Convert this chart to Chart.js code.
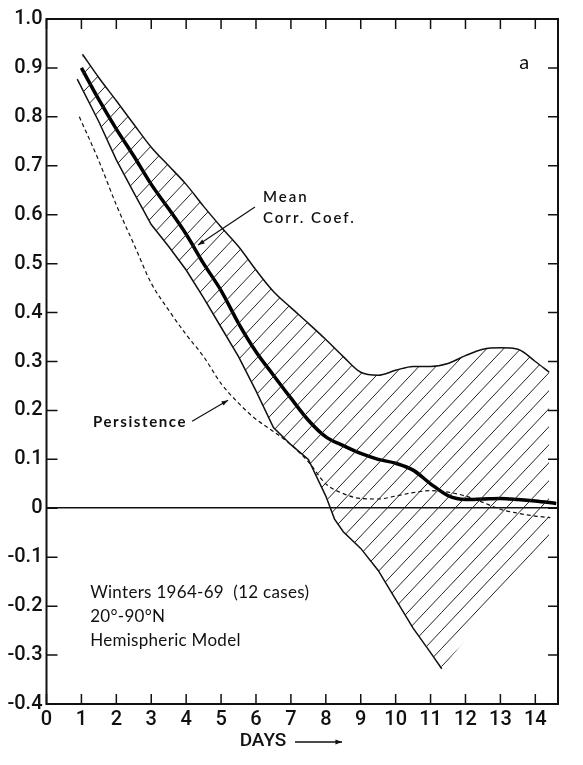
<!DOCTYPE html>
<html>
<head>
<meta charset="utf-8">
<script src="https://cdn.jsdelivr.net/npm/chart.js@4"></script>
<style>
  html, body { margin: 0; padding: 0; background: #fff; }
  #wrap { width: 583px; height: 765px; position: relative; }
</style>
</head>
<body>
<div id="wrap"><canvas id="chart"></canvas></div>
<script>
// values (days, correlation coefficient)
const dayTicks = [0, 1, 2, 3, 4, 5, 6, 7, 8, 9, 10, 11, 12, 13, 14];
const corrTicks = [-0.4, -0.3, -0.2, -0.1, 0, 0.1, 0.2, 0.3, 0.4, 0.5, 0.6, 0.7, 0.8, 0.9, 1.0];
const corrTickLabels = ['-0.4', '-0.3', '-0.2', '-0.1', '0', '0.1', '0.2', '0.3', '0.4', '0.5', '0.6', '0.7', '0.8', '0.9', '1.0'];

const meanDays = [1, 1.5, 2, 2.5, 3, 3.5, 4, 4.5, 5, 5.5, 6, 6.5, 7, 7.5, 8, 8.5, 9, 9.5, 10, 10.5, 11, 11.5, 12, 12.5, 13, 13.5, 14, 14.6];
const meanCorr = [0.90, 0.835, 0.775, 0.72, 0.662, 0.612, 0.56, 0.50, 0.445, 0.378, 0.32, 0.272, 0.225, 0.18, 0.146, 0.128, 0.112, 0.10, 0.092, 0.078, 0.05, 0.026, 0.018, 0.019, 0.02, 0.018, 0.015, 0.01];

const upperDays = [1.03, 1.5, 2, 2.5, 3, 3.5, 4, 4.5, 5, 5.5, 6, 6.5, 7, 7.5, 8, 8.5, 9, 9.5, 10, 10.5, 11, 11.5, 12, 12.5, 13, 13.5, 14, 14.4];
const upperBound = [0.928, 0.88, 0.833, 0.785, 0.738, 0.70, 0.662, 0.617, 0.575, 0.535, 0.487, 0.443, 0.41, 0.378, 0.345, 0.31, 0.278, 0.272, 0.282, 0.29, 0.29, 0.296, 0.312, 0.325, 0.328, 0.325, 0.30, 0.278];

const lowerDays = [0.88, 1.5, 2, 2.5, 3, 3.5, 4, 4.5, 5, 5.5, 6, 6.5, 7, 7.5, 8, 8.25, 8.5, 9, 9.5, 10, 10.5, 11, 11.32, 12, 13, 14, 14.4];
const lowerBound = [0.877, 0.79, 0.712, 0.645, 0.58, 0.535, 0.487, 0.43, 0.37, 0.31, 0.24, 0.165, 0.13, 0.10, 0.025, -0.022, -0.048, -0.082, -0.127, -0.186, -0.245, -0.295, -0.328, -0.268, -0.181, -0.095, -0.057];

const persistDays = [0.94, 1.5, 2, 2.5, 3, 3.5, 4, 4.5, 5, 5.5, 6, 6.5, 7, 7.5, 8, 8.5, 9, 9.5, 10, 10.5, 11, 11.5, 12, 12.5, 13, 13.5, 14, 14.43];
const persistence = [0.80, 0.71, 0.62, 0.54, 0.46, 0.405, 0.355, 0.31, 0.255, 0.215, 0.182, 0.157, 0.13, 0.095, 0.05, 0.03, 0.02, 0.019, 0.025, 0.032, 0.036, 0.033, 0.025, 0.012, -0.002, -0.01, -0.016, -0.019];

const toPoints = (xs, ys) => xs.map((d, i) => ({x: d, y: ys[i]}));

function makeHatch() {
    const w = 17, h = 18;
    const c = document.createElement('canvas');
    c.width = w; c.height = h;
    const g = c.getContext('2d');
    g.strokeStyle = '#222';
    g.lineWidth = 1;
    for (let k = -1; k <= 1; k++) {
        g.beginPath();
        g.moveTo(k * w, h);
        g.lineTo(k * w + w, 0);
        g.stroke();
    }
    return g.createPattern(c, 'repeat');
}

function arrow(ctx, x1, y1, x2, y2) {
    ctx.beginPath();
    ctx.moveTo(x1, y1);
    ctx.lineTo(x2, y2);
    ctx.stroke();
    const a = Math.atan2(y2 - y1, x2 - x1);
    const len = 7;
    ctx.beginPath();
    ctx.moveTo(x2, y2);
    ctx.lineTo(x2 - len * Math.cos(a - 0.35), y2 - len * Math.sin(a - 0.35));
    ctx.lineTo(x2 - len * Math.cos(a + 0.35), y2 - len * Math.sin(a + 0.35));
    ctx.closePath();
    ctx.fill();
}

const decorations = {
    id: 'decorations',
    afterDraw(chart) {
        const {ctx, chartArea: a, scales: {x, y}} = chart;
        ctx.save();
        ctx.strokeStyle = '#111';
        ctx.fillStyle = '#111';

        // frame
        ctx.lineWidth = 2;
        ctx.strokeRect(a.left, a.top, a.right - a.left, a.bottom - a.top);

        // inward ticks on all four sides
        ctx.lineWidth = 1.5;
        ctx.beginPath();
        x.ticks.forEach(t => {
            const px = x.getPixelForValue(t.value);
            ctx.moveTo(px, a.bottom); ctx.lineTo(px, a.bottom - 10);
            ctx.moveTo(px, a.top); ctx.lineTo(px, a.top + 10);
        });
        y.ticks.forEach(t => {
            const py = y.getPixelForValue(t.value);
            ctx.moveTo(a.left, py); ctx.lineTo(a.left + 11, py);
            ctx.moveTo(a.right, py); ctx.lineTo(a.right - 10, py);
        });
        ctx.stroke();

        const X = v => x.getPixelForValue(v);
        const Y = v => y.getPixelForValue(v);

        // labels with arrows
        ctx.lineWidth = 1.2;
        ctx.textBaseline = 'middle';
        ctx.textAlign = 'left';
        ctx.letterSpacing = '2px';
        ctx.font = '600 15px Lato, "Open Sans", sans-serif';
        ctx.fillText('Mean', X(6.2), Y(0.636));
        ctx.fillText('Corr. Coef.', X(6.2), Y(0.593));
        arrow(ctx, X(5.97), Y(0.616), X(4.34), Y(0.538));

        ctx.letterSpacing = '1.6px';
        ctx.font = 'bold 15px Lato, "Open Sans", sans-serif';
        ctx.fillText('Persistence', X(1.33), Y(0.176));
        arrow(ctx, X(4.17), Y(0.178), X(5.2), Y(0.221));

        ctx.letterSpacing = '0.3px';
        ctx.font = '17px Lato, "Open Sans", sans-serif';
        ctx.fillText('Winters 1964-69  (12 cases)', X(1.25), Y(-0.173));
        ctx.fillText('20°-90°N', X(1.25), Y(-0.222));
        ctx.fillText('Hemispheric Model', X(1.25), Y(-0.271));

        ctx.letterSpacing = '0px';
        ctx.font = '20px Lato, "Open Sans", sans-serif';
        ctx.textAlign = 'center';
        ctx.fillText('a', X(13.68), Y(0.912));

        // axis caption
        ctx.font = '500 19px Roboto, "Liberation Sans", sans-serif';
        ctx.fillText('DAYS', 263, 741);
        ctx.lineWidth = 1.5;
        arrow(ctx, 295, 742, 342, 742);
        ctx.restore();
    }
};

const tickFont = {family: 'Roboto, "Liberation Sans", sans-serif', size: 20, weight: '500'};

new Chart(document.getElementById('chart'), {
    type: 'line',
    data: {
        datasets: [
            {
                label: 'Upper',
                data: toPoints(upperDays, upperBound),
                borderColor: '#111',
                borderWidth: 1.5,
                pointRadius: 0,
                cubicInterpolationMode: 'monotone',
                fill: '+1',
                backgroundColor: makeHatch()
            },
            {
                label: 'Lower',
                data: toPoints(lowerDays, lowerBound),
                borderColor: '#111',
                borderWidth: 1.5,
                pointRadius: 0,
                tension: 0,
                fill: false,
                segment: {
                    borderColor: c => c.p0.parsed.x >= 11.3 ? 'rgba(0,0,0,0)' : '#111'
                }
            },
            {
                label: 'Persistence',
                data: toPoints(persistDays, persistence),
                borderColor: '#111',
                borderWidth: 1.2,
                borderDash: [4, 3],
                pointRadius: 0,
                cubicInterpolationMode: 'monotone',
                fill: false
            },
            {
                label: 'Mean Corr. Coef.',
                data: toPoints(meanDays, meanCorr),
                borderColor: '#000',
                borderWidth: 3.5,
                pointRadius: 0,
                cubicInterpolationMode: 'monotone',
                fill: false
            }
        ]
    },
    options: {
        responsive: true,
        maintainAspectRatio: false,
        animation: false,
        events: [],
        layout: {padding: {top: 19, right: 25, left: 0, bottom: 0}},
        plugins: {
            legend: {display: false},
            tooltip: {enabled: false}
        },
        scales: {
            x: {
                type: 'linear',
                min: 0,
                max: 14.65,
                afterFit: s => { s.height = 61; },
                afterBuildTicks: s => { s.ticks = dayTicks.map(v => ({value: v})); },
                grid: {display: false, drawTicks: false},
                border: {display: false},
                ticks: {color: '#111', font: tickFont, padding: 4, maxRotation: 0, autoSkip: false}
            },
            y: {
                min: -0.4,
                max: 1.0,
                afterFit: s => { s.width = 46.5; },
                afterBuildTicks: s => { s.ticks = corrTicks.map(v => ({value: v})); },
                grid: {
                    drawTicks: false,
                    color: c => c.tick && Math.abs(c.tick.value) < 1e-9 ? '#111' : 'rgba(0,0,0,0)',
                    lineWidth: 1.6
                },
                border: {display: false},
                ticks: {
                    color: '#111',
                    font: tickFont,
                    padding: 4,
                    autoSkip: false,
                    callback: v => corrTickLabels[corrTicks.findIndex(t => Math.abs(t - v) < 1e-9)]
                }
            }
        }
    },
    plugins: [decorations]
});
</script>
</body>
</html>
